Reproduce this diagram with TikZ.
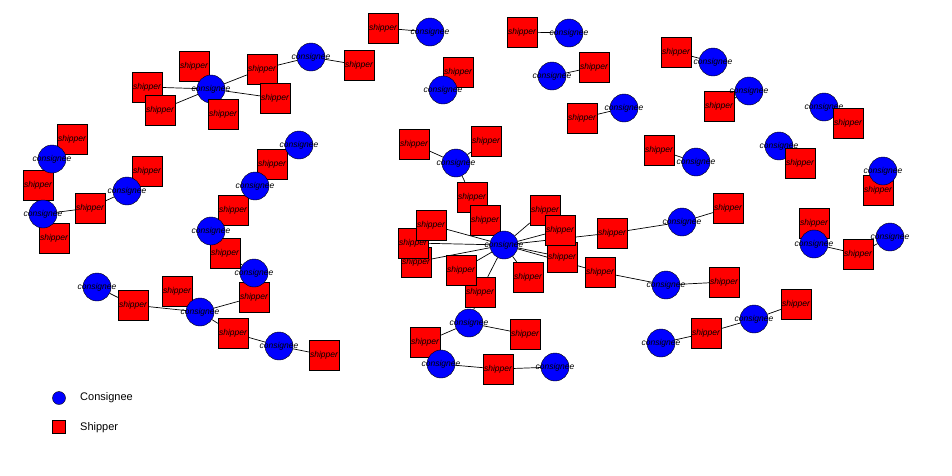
\documentclass[tikz,border=0pt]{standalone}
\usepackage{fontspec}
\setmainfont{Liberation Sans}
\usetikzlibrary{backgrounds}

\begin{document}
\begin{tikzpicture}[x=1pt,y=-1pt,
    cons/.style={circle,draw=black,fill=blue,minimum size=28pt,inner sep=0pt,
      label={[font=\fontsize{8.5}{10}\selectfont\itshape]center:consignee}},
    ship/.style={rectangle,draw=black,fill=red,minimum size=30pt,inner sep=0pt,
      label={[font=\fontsize{8.5}{10}\selectfont\itshape]center:shipper}},
    link/.style={draw=black,line width=0.7pt}]
    \useasboundingbox (0,0) rectangle (952,475);

    % Shippers
    \node[ship] (s1) at (194,66) {};
    \node[ship] (s2) at (147,87) {};
    \node[ship] (s3) at (160,110) {};
    \node[ship] (s5) at (262,69) {};
    \node[ship] (s6) at (275,98) {};
    \node[ship] (s7) at (359,65) {};
    \node[ship] (s8) at (383,28) {};
    \node[ship] (s9) at (458,72) {};
    \node[ship] (s10) at (522,32) {};
    \node[ship] (s11) at (594,67) {};
    \node[ship] (s12) at (582,118) {};
    \node[ship] (s13) at (676,52) {};
    \node[ship] (s14) at (719,106) {};
    \node[ship] (s15) at (659,150) {};
    \node[ship] (s18) at (878,190) {};
    \node[ship] (s19) at (72,139) {};
    \node[ship] (s20) at (38,185) {};
    \node[ship] (s21) at (54,238) {};
    \node[ship] (s22) at (90,208) {};
    \node[ship] (s23) at (147,171) {};
    \node[ship] (s24) at (272,164) {};
    \node[ship] (s25) at (233,210) {};
    \node[ship] (s26) at (225,253) {};
    \node[ship] (s27) at (254,297) {};
    \node[ship] (s28) at (414,144) {};
    \node[ship] (s29) at (486,141) {};
    \node[ship] (s30) at (472,197) {};
    \node[ship] (s31) at (485,220) {};
    \node[ship] (s34) at (416,262) {};
    \node[ship] (s33) at (413,243) {};
    \node[ship] (s32) at (431,225) {};
    \node[ship] (s36) at (480,292) {};
    \node[ship] (s35) at (461,270) {};
    \node[ship] (s37) at (528,277) {};
    \node[ship] (s40) at (562,257) {};
    \node[ship] (s38) at (545,210) {};
    \node[ship] (s39) at (560,230) {};
    \node[ship] (s41) at (612,233) {};
    \node[ship] (s42) at (600,272) {};
    \node[ship] (s43) at (728,208) {};
    \node[ship] (s44) at (724,282) {};
    \node[ship] (s45) at (814,223) {};
    \node[ship] (s46) at (858,254) {};
    \node[ship] (s47) at (133,305) {};
    \node[ship] (s48) at (177,291) {};
    \node[ship] (s49) at (233,333) {};
    \node[ship] (s50) at (324,355) {};
    \node[ship] (s51) at (525,334) {};
    \node[ship] (s52) at (425,342) {};
    \node[ship] (s53) at (498,369) {};
    \node[ship] (s54) at (706,333) {};
    \node[ship] (s55) at (796,304) {};

    % Consignees
    \node[cons] (c1) at (211,89) {};
    \node[cons] (c2) at (311,57) {};
    \node[cons] (c3) at (430,32) {};
    \node[cons] (c4) at (443,90) {};
    \node[cons] (c5) at (569,33) {};
    \node[cons] (c6) at (552,76) {};
    \node[cons] (c7) at (624,108) {};
    \node[cons] (c8) at (713,62) {};
    \node[cons] (c9) at (749,91) {};
    \node[cons] (c10) at (696,162) {};
    \node[cons] (c11) at (824,107) {};
    \node[cons] (c12) at (779,146) {};
    \node[cons] (c13) at (883,171) {};
    \node[cons] (c14) at (52,159) {};
    \node[cons] (c15) at (43,214) {};
    \node[cons] (c16) at (127,191) {};
    \node[cons] (c17) at (299,145) {};
    \node[cons] (c18) at (255,186) {};
    \node[cons] (c19) at (211,231) {};
    \node[cons] (c20) at (254,273) {};
    \node[cons] (c21) at (456,163) {};
    \node[cons] (c22) at (504,245) {};
    \node[cons] (c23) at (682,222) {};
    \node[cons] (c24) at (666,285) {};
    \node[cons] (c25) at (814,244) {};
    \node[cons] (c26) at (890,237) {};
    \node[cons] (c27) at (97,287) {};
    \node[cons] (c28) at (200,312) {};
    \node[cons] (c29) at (279,346) {};
    \node[cons] (c30) at (469,323) {};
    \node[cons] (c31) at (441,364) {};
    \node[cons] (c32) at (555,367) {};
    \node[cons] (c33) at (661,343) {};
    \node[cons] (c34) at (754,319) {};

    % Shippers lying over their consignee
    \node[ship] (s4) at (223,114) {};
    \node[ship] (s16) at (848,123) {};
    \node[ship] (s17) at (800,163) {};

    % Links (behind the nodes)
    \begin{scope}[on background layer]
        \foreach \s in {s1,s2,s3,s4,s5,s6} \draw[link] (c1) -- (\s);
        \foreach \s in {s30,s31,s32,s33,s34,s35,s36,s37,s38,s39,s40,s41,s42}
            \draw[link] (c22) -- (\s);
        \draw[link] (s5) -- (c2) -- (s7);
        \draw[link] (s8) -- (c3);
        \draw[link] (s9) -- (c4);
        \draw[link] (s10) -- (c5);
        \draw[link] (c6) -- (s11);
        \draw[link] (s12) -- (c7);
        \draw[link] (s13) -- (c8);
        \draw[link] (s14) -- (c9);
        \draw[link] (s15) -- (c10);
        \draw[link] (c11) -- (s16);
        \draw[link] (c12) -- (s17);
        \draw[link] (c13) -- (s18);
        \draw[link] (s19) -- (c14) -- (s20) -- (c15) -- (s21);
        \draw[link] (c15) -- (s22) -- (c16) -- (s23);
        \draw[link] (c17) -- (s24) -- (c18) -- (s25) -- (c19) -- (s26) -- (c20) -- (s27) -- (c28);
        \draw[link] (s28) -- (c21) -- (s29);
        \draw[link] (c21) -- (s30);
        \draw[link] (s41) -- (c23) -- (s43);
        \draw[link] (s42) -- (c24) -- (s44);
        \draw[link] (s45) -- (c25) -- (s46) -- (c26);
        \draw[link] (c27) -- (s47) -- (c28) -- (s48);
        \draw[link] (c28) -- (s49) -- (c29) -- (s50);
        \draw[link] (s36) -- (c30) -- (s51);
        \draw[link] (c30) -- (s52) -- (c31) -- (s53) -- (c32);
        \draw[link] (c33) -- (s54) -- (c34) -- (s55);
    \end{scope}

    % Legend
    \node[circle,draw=black,fill=blue,minimum size=13pt,inner sep=0pt] (legc) at (59,398) {};
    \node[rectangle,draw=black,fill=red,minimum size=13pt,inner sep=0pt] (legs) at (59,427) {};
    \node[anchor=west,font=\fontsize{11}{13}\selectfont,inner sep=0pt] (legct) at (80,398) {Consignee};
    \node[anchor=west,font=\fontsize{11}{13}\selectfont,inner sep=0pt] (legst) at (80,428) {Shipper};
\end{tikzpicture}
\end{document}
